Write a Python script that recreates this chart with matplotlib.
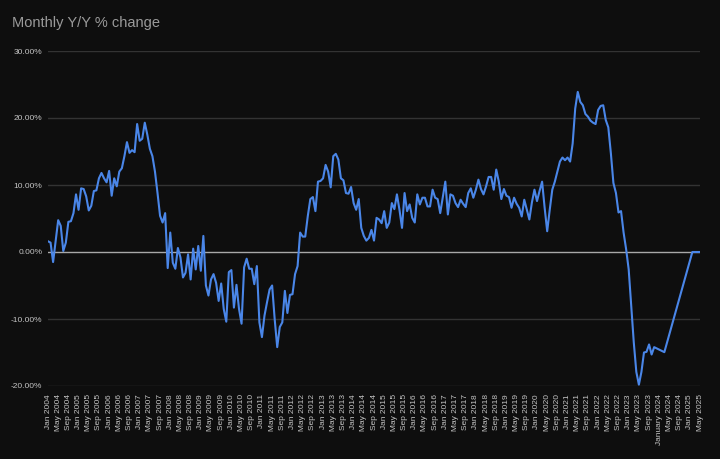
import matplotlib
matplotlib.use("Agg")
import matplotlib.pyplot as plt
import numpy as np

# Month labels Jan 2004 .. May 2025 (257 months)
months = ["Jan", "Feb", "Mar", "Apr", "May", "Jun", "Jul", "Aug", "Sep", "Oct", "Nov", "Dec"]
dates = [f"{months[m]} {y}" for y in range(2004, 2026) for m in range(12)][:257]

# Y/Y % change values (None = no data point for that month)
yoy_2004_2010 = [
    1.6, 1.4, -1.5, 1.6, 4.75, 3.9, 0.15, 1.4, 4.5, 4.6, 5.8, 8.6,
    6.3, 9.5, 9.4, 8.3, 6.2, 6.9, 9.1, 9.2, 11.0, 11.8, 11.0, 10.4,
    12.1, 8.4, 11.0, 9.8, 12.0, 12.5, 14.3, 16.4, 14.8, 15.2, 14.9, 19.1,
    16.6, 16.9, 19.3, 17.5, 15.4, 14.3, 12.0, 8.8, 5.4, 4.4, 5.8, -2.4,
    2.9, -1.6, -2.5, 0.6, -0.8, -3.8, -3.1, -0.35, -4.1, 0.5, -2.6, 0.9,
    -2.8, 2.4, -5.0, -6.5, -4.1, -3.3, -4.6, -7.3, -4.7, -8.5, -10.4, -3.0,
    -2.7, -8.3, -4.9, -8.5, -10.7, -2.3, -1.0, -2.5, -2.5, -4.8, -2.1, -10.5,
]
yoy_2011_2017 = [
    -12.7, -9.5, -7.5, -5.6, -5.0, -10.0, -14.2, -11.2, -10.5, -5.8, -9.1, -6.4,
    -6.3, -3.3, -2.1, 2.9, 2.3, 2.3, 5.35, 7.9, 8.2, 6.1, 10.5, 10.6,
    11.0, 13.0, 12.0, 9.65, 14.3, 14.65, 13.8, 11.0, 10.7, 8.8, 8.7, 9.7,
    7.3, 6.3, 7.9, 3.6, 2.4, 1.7, 2.1, 3.3, 1.7, 5.1, 4.85, 4.3,
    6.1, 3.6, 4.4, 7.3, 6.4, 8.6, 6.3, 3.6, 8.8, 6.1, 7.1, 5.1,
    4.4, 8.6, 7.1, 8.1, 8.1, 6.8, 6.8, 9.3, 8.1, 7.9, 5.8, 8.1,
    10.5, 5.6, 8.6, 8.4, 7.3, 6.7, 7.8, 7.2, 6.7, 8.8, 9.5, 8.1,
]
yoy_2018_2025 = [
    9.3, 10.8, 9.4, 8.6, 9.8, 11.2, 11.2, 9.3, 12.3, 10.5, 7.9, 9.4,
    8.4, 8.2, 6.6, 8.1, 7.2, 6.6, 5.3, 7.8, 6.3, 4.85, 7.4, 9.3,
    7.6, 9.1, 10.5, 6.6, 3.1, 6.3, 9.3, 10.5, 12.0, 13.5, 14.1, 13.7,
    14.1, 13.5, 16.2, 21.4, 23.9, 22.4, 21.9, 20.6, 20.2, 19.6, 19.3, 19.1,
    21.2, 21.8, 21.9, 19.7, 18.6, 14.75, 10.3, 8.8, 5.9, 6.1, 2.9, 0.4,
    -2.6, -8.0, -13.5, -17.9, -19.8, -17.9, -15.0, -14.9, -13.8, -15.3, -14.2, None,
    None, None, -14.95, None, None, None, None, None, None, None, None, None,
    None, 0.0, 0.0, 0.0, 0.0,
]
yoy = yoy_2004_2010 + yoy_2011_2017 + yoy_2018_2025

tick_idx = list(range(0, 257, 4))
tick_labels = ["January 2024" if dates[i] == "Jan 2024" else dates[i] for i in tick_idx]

yticks = [-20, -10, 0, 10, 20, 30]

BG = "#0e0e0e"
plt.rcParams["font.family"] = ["Liberation Sans", "DejaVu Sans"]

fig = plt.figure(figsize=(7.2, 4.59), dpi=100, facecolor=BG)
ax = fig.add_axes([48 / 720, 1 - 386 / 459, 652 / 720, (386 - 51) / 459])
ax.set_facecolor(BG)

xs = [i for i, v in enumerate(yoy) if v is not None]
vs = [v for v in yoy if v is not None]

for t in yticks:
    if t == 0:
        continue
    ax.axhline(t, color="#333333", lw=1.0, zorder=1)
ax.axhline(0, color="#a8a8a8", lw=1.0, zorder=2)

ax.plot(xs, vs, color="#4a86e8", lw=1.5, zorder=3, solid_joinstyle="round")

ax.set_xlim(0, 256)
ax.set_ylim(-20, 30)
ax.set_yticks(yticks)
ax.set_yticklabels([f"{t:.2f}%" for t in yticks])
ax.set_xticks(tick_idx)
ax.set_xticklabels(tick_labels, rotation=90, va="top", ha="center")

ax.tick_params(axis="both", length=0, colors="#c4c4c4", labelsize=6)
ax.tick_params(axis="y", pad=4)
ax.tick_params(axis="x", pad=6)
for s in ax.spines.values():
    s.set_visible(False)

fig.text(12 / 720, 1 - 23 / 459, "Monthly Y/Y % change", color="#9a9a9a",
         fontsize=10.5, va="center", ha="left")

fig.savefig("out.png", dpi=100, facecolor=BG)
